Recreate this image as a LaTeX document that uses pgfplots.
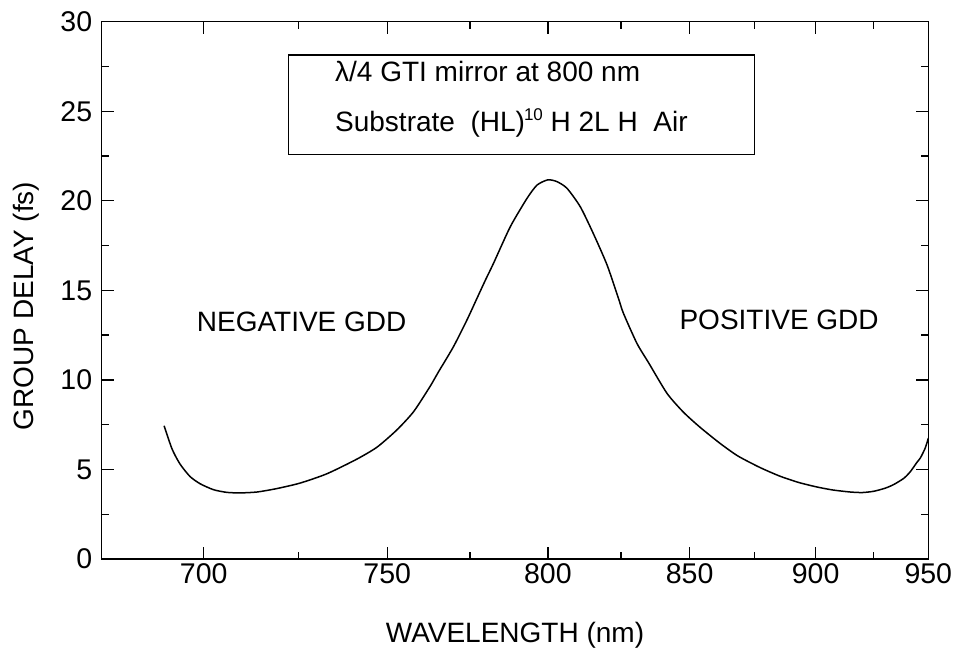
\documentclass[border=0pt]{standalone}
\usepackage{fontspec}
\setmainfont{Liberation Sans}
\usepackage{pgfplots}
\pgfplotsset{compat=1.18}
\begin{document}
\begin{tikzpicture}[font=\fontsize{28}{32}\selectfont]
\begin{axis}[
 name=ax,
 scale only axis,
 width=826.6pt, height=537.3pt,
 x coord trafo/.code={\pgfmathparse{-1000*(1000/#1)}},
 xmin=675, xmax=950, ymin=0, ymax=30,
 xtick={700,750,800,850,900,950},
 xticklabels={700,750,800,850,900,950},
 minor xtick={725,775,825,875,925},
 ytick={0,5,10,15,20,25,30},
 minor ytick={2.5,7.5,12.5,17.5,22.5,27.5},
 tick align=inside,
 major tick length=12pt, minor tick length=7pt,
 axis line style={line width=1.6pt},
 every tick/.append style={black, line width=1.4pt},
 /pgf/number format/assume math mode=true,
 tick label style={font=\fontsize{28.5}{32}\selectfont},
 yticklabel style={xshift=-6pt},
 xticklabel style={yshift=-1pt},
 xlabel={WAVELENGTH (nm)},
 ylabel={GROUP DELAY (fs)},
 xlabel style={at={(axis description cs:0.5,-0.1563)}, anchor=base},
 ylabel style={at={(axis description cs:-0.0831,0.471)}, anchor=base},
]
\addplot[black, line width=1.5pt, smooth, tension=0.4] coordinates {
(690.0,7.44) (692.0,6.15) (694.0,5.31) (696.5,4.61) (699.1,4.20)
(702.5,3.87) (705.9,3.72) (709.4,3.69) (713.8,3.74) (719.1,3.93)
(725.4,4.24) (732.8,4.76) (741.2,5.57) (747.0,6.24) (752.8,7.20)
(757.7,8.22) (762.7,9.62) (765.2,10.42) (769.8,11.85) (774.0,13.34)
(777.1,14.55) (779.7,15.55) (782.3,16.51) (787.7,18.55) (793.1,20.14)
(796.4,20.88) (800.0,21.17) (803.0,21.07) (806.4,20.70) (810.9,19.67)
(815.4,18.19) (820.1,16.42) (824.2,14.56) (825.9,13.72) (830.7,12.04)
(834.9,10.95) (841.6,9.25) (847.7,8.20) (854.0,7.35) (861.6,6.45)
(868.5,5.75) (877.3,5.10) (885.4,4.62) (893.0,4.27) (900.6,4.02)
(907.5,3.85) (914.8,3.74) (920.0,3.71) (925.1,3.78) (930.0,3.95)
(934.0,4.15) (938.6,4.50) (941.6,4.87) (944.7,5.40) (946.3,5.65)
(948.5,6.20) (950.0,6.75)
};
\draw[line width=1.4pt] (rel axis cs:0.2257,0.938) rectangle (rel axis cs:0.7895,0.753);
\node[anchor=base west, inner sep=0pt] at (rel axis cs:0.2822,0.8883) {λ/4 GTI mirror at 800 nm};
\node[anchor=base west, inner sep=0pt] at (rel axis cs:0.2822,0.7953) {Substrate\ \ (HL)\kern-1pt\raisebox{11pt}{\fontsize{17}{20}\selectfont 10} H 2L H\ \ Air};
\node[anchor=base west, inner sep=0pt] at (rel axis cs:0.1149,0.4230) {NEGATIVE GDD};
\node[anchor=base west, inner sep=0pt] at (rel axis cs:0.6988,0.4262) {POSITIVE GDD};
\end{axis}
\pgfresetboundingbox
\path ([shift={(-101.7pt,-92pt)}]ax.south west) rectangle ([shift={(26.7pt,21.7pt)}]ax.north east);
\end{tikzpicture}
\end{document}
